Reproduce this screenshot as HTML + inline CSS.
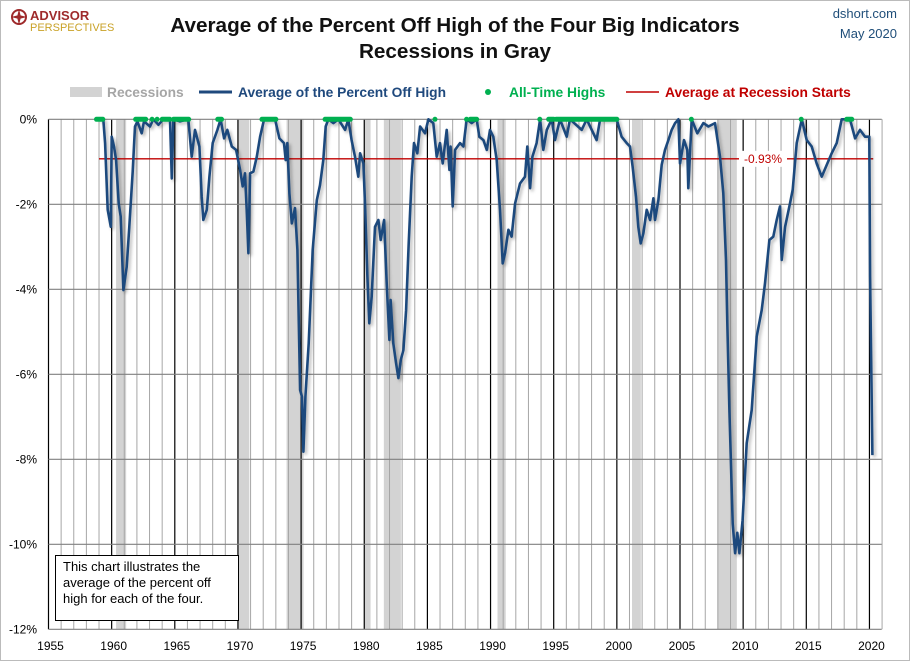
<!DOCTYPE html>
<html><head><meta charset="utf-8">
<style>
html,body{margin:0;padding:0;background:#fff;}
body{width:910px;height:661px;overflow:hidden;font-family:"Liberation Sans",sans-serif;}
</style></head>
<body>
<svg id="chart" width="910" height="661" viewBox="0 0 910 661" xmlns="http://www.w3.org/2000/svg" font-family="Liberation Sans, sans-serif">
<defs>
<filter id="shadow" x="-5%" y="-5%" width="110%" height="110%">
<feDropShadow dx="2" dy="2" stdDeviation="1.5" flood-color="#000" flood-opacity="0.3"/>
</filter>
</defs>
<rect x="0.5" y="0.5" width="909" height="660" fill="#fff" stroke="#bbb"/>
<g>
<circle cx="19" cy="17" r="7" fill="none" stroke="#9e2a2b" stroke-width="2"/>
<path d="M19 9 L21 17 L19 25 L17 17 Z M11 17 L19 15 L27 17 L19 19 Z" fill="#9e2a2b"/>
<text x="30" y="20" font-size="13" font-weight="bold" fill="#9e2a2b">ADVISOR</text>
<text x="30" y="31" font-size="11" fill="#c9a227">PERSPECTIVES</text>
</g>
<text x="455" y="32" text-anchor="middle" font-size="20.7" font-weight="bold" fill="#111">Average of the Percent Off High of the Four Big Indicators</text>
<text x="455" y="58" text-anchor="middle" font-size="20.7" font-weight="bold" fill="#111">Recessions in Gray</text>
<text x="897" y="18" text-anchor="end" font-size="13" fill="#1f4e79">dshort.com</text>
<text x="897" y="38" text-anchor="end" font-size="13" fill="#1f4e79">May 2020</text>
<g>
<g><rect x="70" y="87" width="32" height="10" fill="#d3d3d3"/><text x="107" y="97" font-size="13.8" font-weight="bold" fill="#a6a6a6">Recessions</text></g>
<g><line x1="199" y1="92" x2="232" y2="92" stroke="#1f497d" stroke-width="3"/><text x="238" y="97" font-size="13.8" font-weight="bold" fill="#1f497d">Average of the Percent Off High</text></g>
<g><circle cx="488" cy="92" r="3" fill="#00b050"/><text x="509" y="97" font-size="13.8" font-weight="bold" fill="#00b050">All-Time Highs</text></g>
<g><line x1="626" y1="92" x2="659" y2="92" stroke="#c00000" stroke-width="1.5"/><text x="665" y="97" font-size="13.8" font-weight="bold" fill="#c00000">Average at Recession Starts</text></g>
</g>
<g id="plot"></g>
<g>
<rect x="55.5" y="555.5" width="183" height="65" fill="#fff" stroke="#000"/>
<text font-size="13" fill="#000"><tspan x="63" y="571">This chart illustrates the</tspan><tspan x="63" y="587">average of the percent off</tspan><tspan x="63" y="603">high for each of the four.</tspan></text>
</g>
</svg>
<script>
const recessionStarts = [1960.35,1969.95,1973.85,1980.0,1981.55,1990.55,2001.2,2007.95];
const recessionEnds   = [1961.15,1970.9,1975.2,1980.5,1982.9,1991.2,2001.9,2009.5];
const yearTicks = [1955,1960,1965,1970,1975,1980,1985,1990,1995,2000,2005,2010,2015,2020];
const valueTicks = [0,-2,-4,-6,-8,-10,-12];
const recessionAvg = -0.93;
const dates = [1959.0,1959.34,1959.48,1959.69,1959.93,1960.0,1960.19,1960.35,1960.56,1960.72,1960.93,1961.19,1961.4,1961.67,1961.85,1962.04,1962.38,1962.56,1963.04,1963.3,1963.7,1964.1,1964.62,1964.76,1964.89,1965.41,1966.07,1966.34,1966.6,1966.95,1967.13,1967.26,1967.53,1967.74,1968.0,1968.37,1968.63,1968.9,1969.16,1969.51,1969.85,1970.17,1970.38,1970.56,1970.69,1970.83,1970.96,1971.22,1971.49,1971.75,1972.07,1972.94,1973.28,1973.65,1973.78,1973.91,1974.07,1974.26,1974.52,1974.71,1974.92,1975.07,1975.18,1975.34,1975.6,1975.92,1976.24,1976.5,1976.76,1976.95,1977.16,1977.56,1977.95,1978.48,1978.74,1979.0,1979.27,1979.53,1979.67,1979.93,1980.06,1980.25,1980.4,1980.59,1980.85,1981.12,1981.3,1981.57,1981.78,1981.99,1982.09,1982.3,1982.52,1982.7,1982.89,1983.1,1983.31,1983.52,1983.76,1983.94,1984.2,1984.42,1984.81,1985.08,1985.47,1985.74,1986.0,1986.21,1986.53,1986.74,1986.84,1987.0,1987.19,1987.58,1987.85,1988.11,1988.51,1988.9,1989.11,1989.43,1989.7,1989.96,1990.22,1990.49,1990.75,1990.96,1991.15,1991.41,1991.67,1991.94,1992.33,1992.73,1992.91,1993.13,1993.31,1993.65,1993.92,1994.18,1994.45,1994.84,1995.1,1995.5,1996.03,1996.29,1997.22,1997.61,1998.4,1998.67,1999.99,2000.38,2000.78,2001.04,2001.25,2001.52,2001.7,2001.89,2002.1,2002.36,2002.63,2002.89,2003.02,2003.29,2003.55,2003.81,2004.08,2004.34,2004.61,2004.87,2005.0,2005.32,2005.58,2005.66,2005.93,2006.37,2006.85,2007.25,2007.77,2008.17,2008.43,2008.64,2008.75,2008.91,2009.17,2009.36,2009.54,2009.7,2009.96,2010.28,2010.68,2011.07,2011.47,2011.73,2012.08,2012.39,2012.66,2012.92,2013.05,2013.32,2013.71,2013.92,2014.24,2014.64,2015.03,2015.43,2015.82,2016.22,2016.62,2017.01,2017.41,2017.8,2018.46,2018.86,2019.25,2019.65,2019.99,2020.05,2020.23];
const values = [0,0,-0.56,-2.13,-2.53,-0.41,-0.64,-0.96,-1.98,-2.29,-4.02,-3.47,-2.53,-1.23,-0.17,-0.05,-0.33,-0.05,-0.17,0,-0.13,0,0,-1.39,0,-0.05,0,-0.88,-0.25,-0.64,-1.82,-2.37,-2.13,-1.35,-0.56,-0.25,0,-0.45,-0.25,-0.64,-0.72,-1.19,-1.58,-1.27,-2.13,-3.15,-1.27,-1.23,-0.88,-0.41,0,0,-0.45,-0.56,-0.96,-0.56,-1.74,-2.45,-2.09,-3.07,-6.37,-6.53,-7.82,-6.53,-5.27,-3.07,-1.9,-1.55,-0.96,-0.17,0,-0.09,0,-0.25,0,-0.49,-0.88,-1.35,-0.8,-1.04,-1.98,-3.7,-4.8,-4.17,-2.53,-2.37,-2.84,-2.37,-3.86,-5.19,-4.25,-5.27,-5.74,-6.09,-5.66,-5.43,-4.49,-2.92,-1.35,-0.56,-0.8,-0.17,-0.33,0,-0.09,-0.88,-0.56,-1.04,-0.25,-1.19,-0.64,-2.05,-0.72,-0.56,-0.64,0,-0.09,0,-0.41,-0.49,-0.72,-0.25,-0.41,-0.96,-2.13,-3.39,-3.14,-2.6,-2.76,-1.98,-1.51,-1.35,-0.64,-1.62,-0.88,-0.56,0,-0.72,-0.25,0,-0.49,0,-0.41,0,-0.25,0,-0.49,0,0,-0.41,-0.56,-0.64,-1.11,-1.82,-2.53,-2.92,-2.68,-2.13,-2.37,-1.86,-2.37,-1.9,-1.07,-0.72,-0.49,-0.25,-0.09,0,-1.04,-0.49,-0.72,-1.62,0,-0.33,-0.09,-0.17,-0.09,-0.88,-1.74,-3.31,-4.88,-6.84,-9.51,-10.21,-9.73,-10.21,-9.43,-7.62,-6.84,-5.11,-4.49,-3.86,-2.84,-2.76,-2.37,-2.05,-3.31,-2.53,-1.98,-1.66,-0.56,0,-0.49,-0.64,-1.04,-1.35,-1.07,-0.8,-0.56,0,0,-0.45,-0.25,-0.41,-0.41,-3.7,-7.9];
const athStarts = [1958.8,1961.9,1963.2,1963.6,1964.0,1964.9,1968.4,1971.9,1976.9,1985.6,1988.1,1988.4,1993.9,1994.6,1995.2,2005.9,2014.6,2018.2];
const athEnds   = [1959.3,1962.7,1963.2,1963.6,1964.6,1966.1,1968.7,1973.0,1978.9,1985.6,1988.1,1988.9,1993.9,1995.0,2000.0,2005.9,2014.6,2018.6];

const NS='http://www.w3.org/2000/svg';
const X0=48.5, X1=881.7, Y0=119.3, PXY=42.5, PXYR=12.63;
function xs(yr){return X0+(yr-1955)*PXYR;}
function ys(v){return Y0-v*PXY;}
const plot=document.getElementById('plot');
function mk(tag,attrs,parent){const e=document.createElementNS(NS,tag);for(const k in attrs)e.setAttribute(k,attrs[k]);(parent||plot).appendChild(e);return e;}

for(let i=0;i<recessionStarts.length;i++){
  const r=mk('rect',{x:xs(recessionStarts[i]),y:ys(0),width:xs(recessionEnds[i])-xs(recessionStarts[i]),height:ys(-12)-ys(0),fill:'#d3d3d3'});
  
  
}
for(let yr=1955;yr<=2021;yr++){
  const major=(yr%5===0);
  const l=mk('line',{x1:xs(yr),x2:xs(yr),y1:ys(0),y2:ys(-12),stroke:major?'#000':'#a6a6a6','stroke-width':major?1.2:1});
  
  
}
valueTicks.forEach(v=>{
  const l=mk('line',{x1:X0,x2:X1,y1:ys(v),y2:ys(v),stroke:'#808080','stroke-width':1.2});
  
  
  const t=mk('text',{x:37,y:ys(v)+4,'text-anchor':'end','font-size':12,fill:'#000'});
  t.textContent=v+'%';
  
  
});
yearTicks.forEach(yr=>{
  const t=mk('text',{x:xs(yr)+2,y:650,'text-anchor':'middle','font-size':12,fill:'#000'});
  t.textContent=yr;
  
  
});
const rl=mk('line',{x1:xs(1959.0),x2:xs(2020.3),y1:ys(recessionAvg),y2:ys(recessionAvg),stroke:'#c00000','stroke-width':1.3});


const rb=mk('rect',{x:739,y:ys(recessionAvg)-8,width:48,height:16,fill:'#fff'});


const rt=mk('text',{x:763,y:ys(recessionAvg)+4,'text-anchor':'middle','font-size':12,fill:'#c00000'});
rt.textContent=recessionAvg.toFixed(2)+'%';


let d='';
for(let i=0;i<dates.length;i++){d+=(i?'L':'M')+xs(dates[i]).toFixed(1)+' '+ys(values[i]).toFixed(1);}
const p=mk('path',{d:d,fill:'none',stroke:'#1f497d','stroke-width':2.6,'stroke-linejoin':'round',filter:'url(#shadow)'});


for(let i=0;i<athStarts.length;i++){
  const a=mk('line',{x1:xs(athStarts[i]),x2:xs(athEnds[i]),y1:ys(0),y2:ys(0),stroke:'#00b050','stroke-width':5,'stroke-linecap':'round'});
  
  
}
</script>
</body></html>
